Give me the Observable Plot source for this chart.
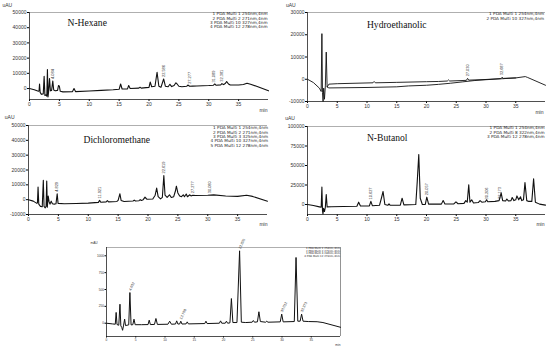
<!DOCTYPE html>
<html><head><meta charset="utf-8">
<script src="https://cdn.jsdelivr.net/npm/d3@7"></script>
<script src="https://cdn.jsdelivr.net/npm/@observablehq/plot@0.6"></script>
<style>
body{margin:0;background:#fff;}
#root{position:relative;width:550px;height:346px;overflow:hidden;background:#fff;}
.panel{position:absolute;}
.panel svg{display:block;overflow:visible;}
</style></head><body><div id="root"></div>
<script>
// ---------- data ----------
const timeTicks = [0, 5, 10, 15, 20, 25, 30, 35];

const hexaneTitle = "N-Hexane";
const hexaneTicks = [0, 10000, 20000, 30000, 40000, 50000];
const hexaneLegend = ["1 PDA Multi 1 254nm,4nm", "2 PDA Multi 2 271nm,4nm", "3 PDA Multi 10 327nm,4nm", "4 PDA Multi 12 278nm,4nm"];
const hexaneTrace = [[0,0],[0.8,-800],[1.5,-1800],[1.6,-1500],[1.68,3000],[1.78,-2500],[2.0,-3800],[2.3,-3500],[2.45,8000],[2.58,-4500],[2.75,-4200],[2.9,-5000],[3.0,12500],[3.1,-5500],[3.2,-2000],[3.35,6500],[3.5,-1500],[3.7,-1200],[3.9,5000],[4.05,-1000],[4.3,-1500],[4.7,-1200],[4.85,2000],[5.0,1500],[5.15,-1800],[5.6,-2200],[7.2,-2000],[7.45,0],[7.7,-2000],[10,-1600],[12,-1200],[14,-800],[15.0,-500],[15.25,3000],[15.5,-300],[16.4,-200],[16.6,2000],[16.85,0],[18.3,300],[18.5,800],[18.7,300],[19.5,600],[20.0,800],[20.2,4300],[20.45,1200],[21.0,1500],[21.35,10700],[21.65,1500],[22.0,800],[22.45,6300],[22.75,1500],[23.2,1200],[23.5,2800],[23.8,1300],[24.2,2000],[24.5,3800],[24.7,3000],[25.0,1500],[25.5,1200],[26.3,1500],[26.5,2300],[26.8,1500],[27.3,1600],[28,1700],[30,2000],[30.8,2200],[31.0,3000],[31.2,2200],[32.0,2400],[32.2,3200],[32.5,2600],[32.8,3500],[33.0,4600],[33.3,3000],[33.6,2300],[35,2300],[35.8,2700],[36.4,3500],[37.0,2800],[38,1500],[40,-1500]];
const hexanePeaks = [[3.9,5000,"4.084"],[22.45,6300,"22.586"],[26.9,1800,"27.277"],[30.9,2600,"31.089"],[32.2,3200,"32.381"]];

const hydroTitle = "Hydroethanolic";
const hydroTicks = [-10000, 0, 10000, 20000, 30000];
const hydroLegend = ["1 PDA Multi 1 254nm,4nm", "2 PDA Multi 10 327nm,4nm"];
const hydroTraceA = [[0,0],[1,-1500],[2.0,-4000],[2.3,-5500],[2.42,20500],[2.52,-6000],[2.62,-10000],[2.72,-4000],[2.85,-9000],[3.0,-3000],[3.15,12200],[3.3,-3500],[3.6,-2200],[5,-2000],[11,-1600],[11.2,-1000],[11.4,-1600],[15,-1400],[20,-1100],[22,-1000],[23.5,-800],[23.7,-300],[23.9,-800],[26.7,-500],[26.9,400],[27.1,-400],[30,-100],[32.5,300],[32.7,900],[32.9,400],[35,600],[36.6,1200],[37,800],[40,-2700]];
const hydroTraceB = [[3.3,-3500],[3.6,-3900],[10,-3700],[15,-3400],[17,-3000],[20,-2700],[22,-2300],[24,-1800],[26,-1200],[28,-600],[30,-200],[32.5,200],[35,600]];
const hydroPeaks = [[26.9,400,"27.030"],[32.7,900,"32.687"]];

const dcmTitle = "Dichloromethane";
const dcmTicks = [-10000, 0, 10000, 20000, 30000, 40000, 50000];
const dcmLegend = ["1 PDA Multi 1 254nm,4nm", "2 PDA Multi 2 271nm,4nm", "3 PDA Multi 3 325nm,4nm", "4 PDA Multi 10 327nm,4nm", "5 PDA Multi 12 278nm,4nm"];
const dcmTrace = [[0,0],[0.8,-1000],[1.4,-2500],[1.5,-2000],[1.6,8500],[1.72,-3000],[2.0,-4500],[2.3,-4800],[2.48,13000],[2.6,-4500],[2.8,-5500],[2.95,-4500],[3.05,12500],[3.15,-5000],[3.3,2500],[3.45,-1500],[3.6,-3000],[3.8,-1000],[4.0,-2800],[4.3,-3000],[4.6,-2800],[4.8,4000],[4.95,-2500],[6,-2800],[8,-2600],[10,-2300],[11.7,-1800],[11.9,-500],[12.1,-1700],[13.0,-1500],[13.2,-700],[13.4,-1500],[14.8,-1200],[15.0,-500],[15.3,4000],[15.5,-500],[16,-1200],[17.5,-900],[17.7,-300],[17.9,-900],[18.5,-700],[18.7,0],[18.9,-500],[19.2,0],[19.5,1700],[19.8,300],[20.8,500],[21.2,3000],[21.45,7800],[21.7,2000],[22.1,500],[22.4,1500],[22.65,16300],[22.85,3000],[23.2,1500],[23.6,3300],[23.9,1500],[24.3,2000],[24.6,6000],[24.75,9100],[25.0,4500],[25.3,2500],[25.6,2000],[25.9,3300],[26.1,2000],[26.4,3800],[26.6,2000],[27.0,3300],[27.2,2500],[27.5,3000],[28,2800],[30,3000],[31,3200],[33,2500],[35,2200],[36.5,3000],[37.5,2200],[40,-1000]];
const dcmPeaks = [[4.8,4000,"4.829"],[11.9,-500,"11.921"],[22.65,16300,"22.619"],[27.5,3000,"27.277"],[30.3,3000,"30.080"]];

const butTitle = "N-Butanol";
const butTicks = [0, 25000, 50000, 75000, 100000];
const butLegend = ["1 PDA Multi 1 254nm,4nm", "2 PDA Multi 8 322nm,4nm", "3 PDA Multi 12 278nm,4nm"];
const butTrace = [[0,0],[1,-1200],[2.0,-3000],[2.3,-3500],[2.42,22300],[2.52,-8000],[2.6,-12000],[2.7,-5000],[2.85,-9000],[3.0,-3500],[3.15,12900],[3.3,-3000],[4,-2800],[6,-2500],[8.3,-2200],[8.6,3000],[8.9,-2000],[10.4,-1800],[10.65,4000],[10.9,-1500],[12.1,-1000],[12.45,9000],[12.7,16700],[13.0,0],[13.5,-1000],[13.7,800],[13.9,-1000],[15.6,-800],[15.9,8100],[16.2,-500],[18.2,0],[18.45,30000],[18.7,64000],[18.95,8000],[19.3,0],[19.8,200],[20.05,9400],[20.35,500],[22.5,500],[22.8,5200],[23.1,700],[24.6,800],[24.95,3500],[25.3,1000],[26.3,1500],[26.6,5000],[26.85,3000],[27.1,25400],[27.3,3000],[27.6,6000],[27.9,2000],[28.7,2500],[29.0,5000],[29.3,3000],[29.9,3500],[30.1,6000],[30.3,3500],[31.5,4000],[32.2,5000],[32.55,15000],[32.8,5000],[33.3,4500],[33.5,7000],[33.8,4500],[34.2,5000],[34.4,9000],[34.7,5000],[35.0,6000],[35.2,11000],[35.5,6000],[35.8,10000],[36.0,5000],[36.3,6000],[36.55,28000],[36.85,5000],[37.2,4000],[37.7,4000],[38.0,33000],[38.3,3000],[39,500],[40,-800]];
const butPeaks = [[10.65,4000,"10.627"],[20.05,9400,"20.057"],[30.1,4000,"30.206"],[32.25,4500,"32.173"]];

const mixTicks = [0, 250, 500, 750, 1000];
const mixLegend = ["1 PDA Multi 1 254nm,4nm", "2 PDA Multi 2 271nm,4nm", "3 PDA Multi 4 280nm,4nm", "4 PDA Multi 12 278nm,4nm"];
const mixTrace = [[0,0],[1.0,-10],[1.5,-15],[1.65,160],[1.8,-20],[2.1,-30],[2.3,282],[2.45,-40],[2.6,-60],[2.75,-105],[2.9,-40],[3.1,60],[3.25,-35],[3.5,-30],[3.8,-25],[4.0,455],[4.2,-25],[4.5,-22],[4.7,60],[4.9,-22],[6,-22],[7.1,-20],[7.3,45],[7.5,-20],[8.2,-18],[8.45,70],[8.7,-18],[10.5,-15],[10.8,30],[11.1,-15],[11.8,-12],[12.0,35],[12.2,-12],[12.5,-12],[12.7,30],[12.9,-12],[13.6,-10],[13.8,20],[14.0,-10],[16.8,-5],[17.0,30],[17.2,-5],[19.3,0],[19.5,35],[19.7,0],[20.3,0],[20.5,30],[20.7,0],[21.1,5],[21.35,366],[21.6,10],[22.3,10],[22.75,1074],[23.05,15],[23.8,10],[24.9,15],[25.1,40],[25.3,15],[25.8,20],[26.05,170],[26.3,25],[27.2,15],[27.4,30],[27.6,15],[29.7,20],[29.95,135],[30.2,20],[32.1,25],[32.4,975],[32.7,30],[33.1,30],[33.35,135],[33.6,30],[34.5,25],[36,22],[37,10],[40,-60]];
const mixPeaks = [[4.0,455,"4.032"],[12.7,30,"12.708"],[22.75,1074,"22.826"],[29.95,135,"30.012"],[33.35,135,"33.373"]];

// ---------- drawing ----------
const FONT = "'Liberation Sans', Arial, sans-serif";
const WIDE = "'DejaVu Sans', Verdana, sans-serif";
const SERIF = "'Liberation Serif', 'Times New Roman', serif";

function panel(o) {
  const marks = [
    Plot.ruleY([o.yDomain[1]], {stroke: "#9a9a9a", strokeWidth: 0.8}),
    ...(o.rightEdge ? [Plot.ruleX([40], {stroke: "#666", strokeWidth: 0.7})] : []),
    Plot.axisX({ticks: timeTicks, tickFormat: d => String(d), tickSize: o.tick, tickPadding: 1, fontSize: o.fs, label: null, fill: "#333"}),
    Plot.axisY({ticks: o.yTicks, tickFormat: d => String(d), tickSize: o.tick, tickPadding: 1, fontSize: o.fs, label: null, fill: "#333"}),
    Plot.ruleX([0], {stroke: "#222", strokeWidth: 0.8}),
    Plot.ruleY([o.yDomain[0]], {stroke: "#222", strokeWidth: 0.8}),
    ...o.traces.map(tr => Plot.line(tr, {x: d => d[0], y: d => d[1], stroke: "#111", strokeWidth: o.sw})),
    Plot.text(o.peaks, {x: d => d[0], y: d => d[1], text: d => d[2], rotate: o.rot, textAnchor: "start", lineAnchor: "middle", dy: -2, fontSize: o.pfs, fill: "#333"}),
    ...o.legend.map((s, i) => Plot.text([s], {text: d => d, frameAnchor: "top-right", textAnchor: "end", lineAnchor: "middle", fontFamily: WIDE, fontSize: o.legFs, dx: o.legDx, dy: o.legDy + i * o.lsp, fill: "#222"})),
    Plot.text([o.unit], {text: d => d, frameAnchor: "top-left", textAnchor: "start", lineAnchor: "bottom", fontSize: o.fs, dx: o.unitPos[0], dy: o.unitPos[1], fill: "#333"}),
    Plot.text(["min"], {text: d => d, frameAnchor: "bottom-right", textAnchor: "end", lineAnchor: "bottom", fontSize: o.fs, dx: o.minPos[0], dy: o.minPos[1], fill: "#333"})
  ];
  if (o.title) marks.push(Plot.text([o.title], {text: d => d, frameAnchor: "top-left", textAnchor: "start", lineAnchor: "bottom", fontFamily: SERIF, fontSize: 9.6, fill: "#111", dx: o.titlePos[0], dy: o.titlePos[1]}));
  const svg = Plot.plot({
    width: o.width, height: o.height,
    marginLeft: o.margin[0], marginTop: o.margin[1], marginRight: o.margin[2], marginBottom: o.margin[3],
    x: {domain: [0, 40]},
    y: {domain: o.yDomain},
    style: {fontFamily: FONT, background: "transparent", overflow: "visible"},
    marks
  });
  const div = document.createElement("div");
  div.className = "panel";
  div.style.left = o.left + "px";
  div.style.top = o.top + "px";
  div.appendChild(svg);
  document.getElementById("root").appendChild(div);
}

const big = {width: 275, height: 114, tick: 2, fs: 5, pfs: 3.9, legFs: 4.2, lsp: 4.35, rot: -90, sw: 1.1};

panel({...big, left: 0, top: 0, margin: [29, 12, 7, 15], yDomain: [-7200, 50000], yTicks: hexaneTicks,
  traces: [hexaneTrace], peaks: hexanePeaks, legend: hexaneLegend, legDx: -1, legDy: 1.3,
  unit: "uAU", unitPos: [-27, -5.5], minPos: [-1, 12], title: hexaneTitle, titlePos: [38, 13.7]});

panel({...big, left: 275, top: 0, margin: [32, 12, 5, 13], yDomain: [-10000, 30000], yTicks: hydroTicks,
  traces: [hydroTraceA, hydroTraceB], sw: 0.9, peaks: hydroPeaks, legend: hydroLegend, legDx: -1.5, legDy: 1.6,
  unit: "uAU", unitPos: [-21.6, -5.2], minPos: [-2, 12.3], title: hydroTitle, titlePos: [59.4, 15]});

panel({...big, left: 0, top: 115, margin: [28, 10, 8, 15], yDomain: [-10000, 50000], yTicks: dcmTicks,
  traces: [dcmTrace], peaks: dcmPeaks, legend: dcmLegend, legDx: 0.5, legDy: 2.3,
  unit: "uAU", unitPos: [-23.7, -6.2], minPos: [0, 11.7], title: dcmTitle, titlePos: [55, 17.7]});

panel({...big, left: 275, top: 115, margin: [32, 11, 5, 15], yDomain: [-12800, 100000], yTicks: butTicks,
  traces: [butTrace], peaks: butPeaks, legend: butLegend, legDx: -1, legDy: 1.6,
  unit: "uAU", unitPos: [-22.3, -6.2], minPos: [-1, 11.5], title: butTitle, titlePos: [59.4, 14.3]});

panel({width: 260, height: 114, tick: 1.5, fs: 3.2, pfs: 3.6, legFs: 2.6, lsp: 2.65, rot: -65, sw: 1,
  left: 90, top: 232, margin: [16, 15, 10, 10], yDomain: [-197, 1123], yTicks: mixTicks, rightEdge: true,
  traces: [mixTrace], peaks: mixPeaks, legend: mixLegend, legDx: -0.5, legDy: 0.6,
  unit: "mAU", unitPos: [-16, -4], minPos: [0, 9], title: null});
</script>
</body></html>
